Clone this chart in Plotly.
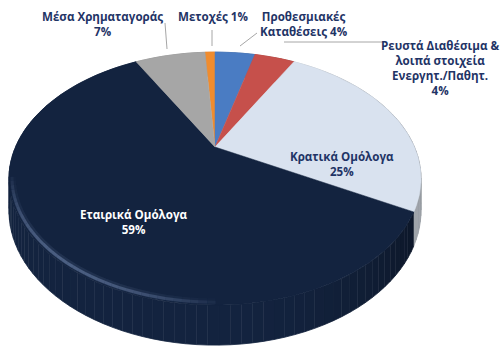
import numpy as np
import plotly.graph_objects as go

# Portfolio composition (percent), clockwise from the top
categories = [
    "Μετοχές",
    "Προθεσμιακές Καταθέσεις",
    "Ρευστά Διαθέσιμα & λοιπά στοιχεία Ενεργητ./Παθητ.",
    "Κρατικά Ομόλογα",
    "Εταιρικά Ομόλογα",
    "Μέσα Χρηματαγοράς",
]
values = [1, 4, 4, 25, 59, 7]
label_lines = [
    ["Μετοχές {v}%"],
    ["Προθεσμιακές", "Καταθέσεις {v}%"],
    ["Ρευστά Διαθέσιμα &", "λοιπά στοιχεία", "Ενεργητ./Παθητ.", "{v}%"],
    ["Κρατικά Ομόλογα", "{v}%"],
    ["Εταιρικά Ομόλογα", "{v}%"],
    ["Μέσα Χρηματαγοράς", "{v}%"],
]

top_colors = ["#F08C2E", "#4A7CC3", "#C6504B", "#D9E2EF", "#13233F", "#A6A6A6"]
side_colors = ["#D27722", "#3F6AA8", "#AC4440", "#D0D6DF", "#13233F", "#939393"]
side_dim = [0.45, 0.45, 0.45, 0.30, 0.45, 0.45]
text_colors = ["#1F3466", "#1F3466", "#1F3466", "#1F3466", "#FFFFFF", "#1F3466"]

# label placement (pixel space) and leader lines
label_pos = [(213, 16), (304, 24), (440, 68), (342, 164), (133, 222), (102, 24)]
leaders = [
    [(212, 30), (212, 46)],
    [(257, 33), (240, 46)],
    [(383, 42), (284, 42)],
    None,
    None,
    [(165, 23), (167, 49)],
]

# 3-D pie geometry in pixel space (y grows downward)
CX, CY, RX, RY = 215.0, 147.0, 199.5, 118.6
PERSP = 0.25       # far rim shrinks, near rim grows
DEPTH = 30.0       # side thickness before perspective
START = -3.6       # first slice angle, degrees clockwise from top


def project(t, drop=0.0, scale=1.0):
    sx, sz = np.sin(t) * scale, np.cos(t) * scale
    s = 1.0 / (1.0 + PERSP * sz)
    return CX + RX * sx * s, CY - RY * sz * s + drop * s


def shade(hex_color, k):
    c = [int(hex_color[j:j + 2], 16) for j in (1, 3, 5)]
    c = [max(0, min(255, int(round(v * k)))) for v in c]
    return "#%02X%02X%02X" % tuple(c)


total = float(sum(values))
bounds = np.radians(START) + 2 * np.pi * np.concatenate([[0], np.cumsum(values)]) / total

fig = go.Figure()

# side walls in thin strips, darker toward the right; drawn first so the
# top faces cover the hidden back parts
for i in range(len(values)):
    n = max(2, int(values[i] * 1.5))
    t = np.linspace(bounds[i], bounds[i + 1], n + 1)
    for j in range(n):
        tt = np.linspace(t[j], t[j + 1], 4)
        xt, yt = project(tt)
        xb, yb = project(tt, drop=DEPTH)
        sx = np.sin(tt.mean())
        k = 1.0 - side_dim[i] * max(0.0, sx) ** 2
        col = shade(side_colors[i], k)
        fig.add_trace(go.Scatter(
            x=np.concatenate([xt, xb[::-1]]), y=np.concatenate([yt, yb[::-1]]),
            fill="toself", fillcolor=col, mode="lines",
            line=dict(color=col, width=0.8), hoverinfo="skip", showlegend=False,
        ))

# top faces
for i in range(len(values)):
    t = np.linspace(bounds[i], bounds[i + 1], max(8, int(values[i] * 4)))
    xa, ya = project(t)
    fig.add_trace(go.Scatter(
        x=np.concatenate([[CX], xa, [CX]]), y=np.concatenate([[CY], ya, [CY]]),
        fill="toself", fillcolor=top_colors[i], mode="lines",
        line=dict(color=top_colors[i], width=0.5), hoverinfo="skip", showlegend=False,
        name=categories[i],
    ))

# soft bevel highlight along the near rim, fading at both ends
seg = np.radians(np.linspace(178, 258, 44))
for width, peak, sc in [(6, 0.12, 0.982), (3, 0.40, 0.986)]:
    for j in range(len(seg) - 1):
        u = j / (len(seg) - 2)
        a = peak * np.sin(np.pi * u) ** 0.7
        xh, yh = project(np.array([seg[j], seg[j + 1]]), scale=sc)
        fig.add_trace(go.Scatter(x=xh, y=yh, mode="lines",
                                 line=dict(color=f"rgba(140,162,205,{a:.3f})", width=width),
                                 hoverinfo="skip", showlegend=False))

# leader lines
for segm in leaders:
    if segm:
        fig.add_trace(go.Scatter(x=[p[0] for p in segm], y=[p[1] for p in segm], mode="lines",
                                 line=dict(color="#A6A6A6", width=1),
                                 hoverinfo="skip", showlegend=False))

# data labels
for i, lines in enumerate(label_lines):
    txt = "<br>".join(l.format(v=values[i]) for l in lines)
    fig.add_annotation(x=label_pos[i][0], y=label_pos[i][1], text=txt, showarrow=False,
                       xanchor="center", yanchor="middle", align="center",
                       font=dict(family="Open Sans", size=11.6, color=text_colors[i], weight="bold"))

fig.update_layout(
    width=500, height=347, margin=dict(l=0, r=0, t=0, b=0),
    paper_bgcolor="white", plot_bgcolor="white",
    xaxis=dict(range=[0, 500], visible=False, fixedrange=True),
    yaxis=dict(range=[347, 0], visible=False, fixedrange=True),
    showlegend=False,
)

fig.write_html("out.html")
